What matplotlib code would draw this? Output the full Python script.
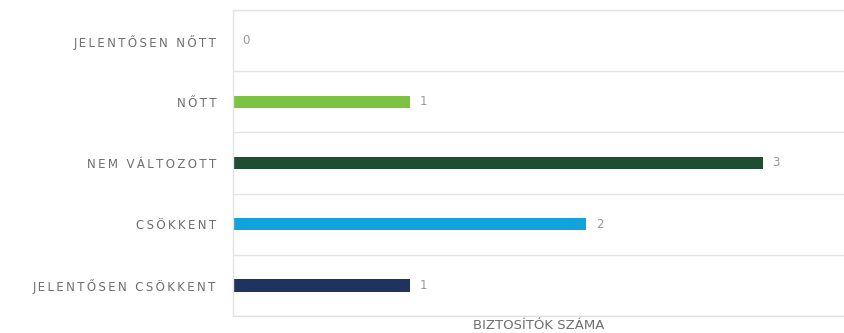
import numpy as np
import matplotlib.pyplot as plt

# adatok
categories = ["JELENTŐSEN NŐTT", "NŐTT", "NEM VÁLTOZOTT", "CSÖKKENT", "JELENTŐSEN CSÖKKENT"]
values = [0, 1, 3, 2, 1]
colors = ["#7DC242", "#7DC242", "#1E4D30", "#12A3DD", "#1F3260"]
x_label = "BIZTOSÍTÓK SZÁMA"

grid_col = "#e3e3e3"
text_col = "#6e6e6e"


def spaced(s):
    # betűköz imitálása vékony szóközzel
    return "\u2009".join(s)


fig = plt.figure(figsize=(8.44, 3.33), dpi=100)
ax = fig.add_axes([233 / 844, 1 - 316 / 333, 1 - 233 / 844, 306 / 333])

y = np.arange(len(categories))
ax.barh(y, values, height=0.2, color=colors)

for yi, v in zip(y, values):
    ax.text(v + 0.055, yi, str(v), va="center", ha="left", fontsize=8.5, color="#999999")

ax.set_xlim(0, 611 / 176.5)
ax.set_ylim(len(categories) - 0.5, -0.5)

ax.set_yticks(y)
ax.set_yticklabels([spaced(c) for c in categories], fontsize=8.5, color=text_col)
ax.set_yticks(np.arange(len(categories) + 1) - 0.5, minor=True)
ax.tick_params(axis="y", which="both", length=0, pad=12)
ax.grid(axis="y", which="minor", color=grid_col, linewidth=1)
ax.set_xticks([])
ax.set_xlabel(x_label, fontsize=9.5, color=text_col, labelpad=2)

for side in ["top", "bottom", "left"]:
    ax.spines[side].set_color(grid_col)
    ax.spines[side].set_linewidth(1)
ax.spines["right"].set_visible(False)

fig.savefig("out.png", dpi=100)
